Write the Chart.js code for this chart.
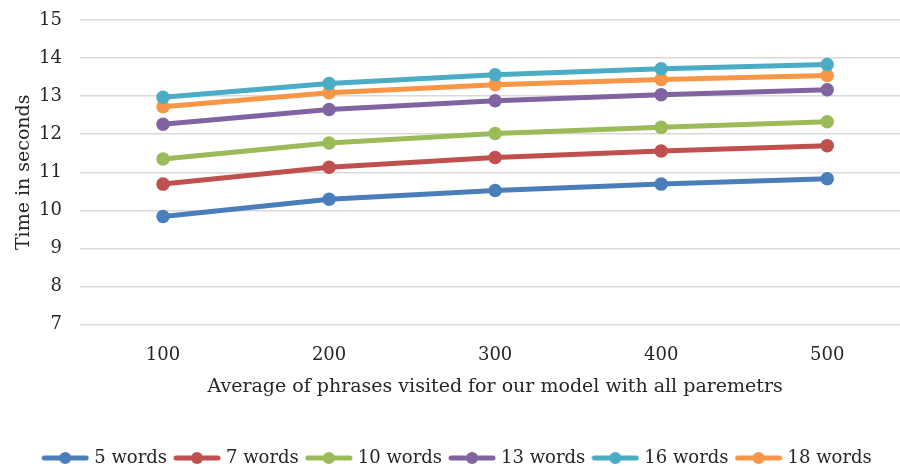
<!DOCTYPE html>
<html>
<head>
<meta charset="utf-8">
<title>Time in seconds vs phrases visited</title>
<script src="https://cdn.jsdelivr.net/npm/chart.js@4.4.0/dist/chart.umd.min.js"></script>
<style>
  html, body { margin: 0; padding: 0; background: #fff; overflow: hidden; }
  #wrap { width: 917px; height: 477px; }
</style>
</head>
<body>
<div id="wrap"><canvas id="chart" width="917" height="477"></canvas></div>
<script>
// Phrases visited (x axis)
const phraseCounts = ['100', '200', '300', '400', '500'];

// Time in seconds, one series per phrase length
const words5  = [9.84, 10.29, 10.52, 10.69, 10.83];
const words7  = [10.69, 11.13, 11.39, 11.56, 11.70];
const words10 = [11.35, 11.77, 12.02, 12.18, 12.33];
const words13 = [12.26, 12.65, 12.88, 13.04, 13.17];
const words16 = [12.97, 13.33, 13.56, 13.72, 13.83];
const words18 = [12.72, 13.09, 13.30, 13.44, 13.54];

const seriesNames = ['5 words', '7 words', '10 words', '13 words', '16 words', '18 words'];
const seriesData = [words5, words7, words10, words13, words16, words18];
const seriesColors = ['#4a7ebb', '#c0504d', '#9bbb59', '#8064a2', '#4bacc6', '#f79646'];

const fontFamily = '"DejaVu Serif", "Liberation Serif", serif';
const textColor = '#262626';

// small line-with-dot marker for the legend
function legendMarker(color) {
    const c = document.createElement('canvas');
    c.width = 48;
    c.height = 14;
    const ctx = c.getContext('2d');
    ctx.strokeStyle = color;
    ctx.lineWidth = 5;
    ctx.lineCap = 'round';
    ctx.beginPath();
    ctx.moveTo(3, 7);
    ctx.lineTo(45, 7);
    ctx.stroke();
    ctx.fillStyle = color;
    ctx.beginPath();
    ctx.arc(24, 7, 6, 0, Math.PI * 2);
    ctx.fill();
    return c;
}

const datasets = seriesNames.map((name, i) => ({
    label: name,
    data: seriesData[i],
    borderColor: seriesColors[i],
    backgroundColor: seriesColors[i],
    borderWidth: 5,
    pointRadius: 6.75,
    pointHoverRadius: 6.75,
    pointBorderWidth: 0,
    tension: 0,
    legendMarker: legendMarker(seriesColors[i])
}));

new Chart(document.getElementById('chart'), {
    type: 'line',
    data: { labels: phraseCounts, datasets: datasets },
    options: {
        responsive: false,
        animation: false,
        layout: { padding: { left: 0, right: 0, top: 20, bottom: 0 } },
        plugins: {
            tooltip: { enabled: false },
            legend: {
                position: 'bottom',
                labels: {
                    usePointStyle: true,
                    pointStyleWidth: 40,
                    color: textColor,
                    font: { family: fontFamily, size: 18 },
                    padding: 10,
                    generateLabels: function(chart) {
                        return chart.data.datasets.map((ds, i) => ({
                            text: ds.label,
                            fillStyle: ds.borderColor,
                            strokeStyle: ds.borderColor,
                            pointStyle: ds.legendMarker,
                            fontColor: textColor,
                            datasetIndex: i,
                            hidden: false,
                            lineWidth: 0
                        }));
                    }
                }
            }
        },
        scales: {
            x: {
                offset: true,
                grid: { display: false },
                border: { display: false },
                ticks: { color: textColor, font: { family: fontFamily, size: 18 }, padding: 12 },
                title: {
                    display: true,
                    text: 'Average of phrases visited for our model with all paremetrs',
                    color: textColor,
                    font: { family: fontFamily, size: 19 },
                    padding: { top: -3, bottom: 41 }
                },
                afterFit: function(scale) {
                    // let the plot run to both edges
                    scale.paddingLeft = 0;
                    scale.paddingRight = 0;
                }
            },
            y: {
                min: 7,
                max: 15,
                ticks: { stepSize: 1, color: textColor, font: { family: fontFamily, size: 18 }, padding: 18 },
                grid: { color: '#d9d9d9', lineWidth: 1.5, drawTicks: false },
                border: { display: false },
                title: {
                    display: true,
                    text: 'Time in seconds',
                    color: textColor,
                    font: { family: fontFamily, size: 19 },
                    padding: { top: 13, bottom: 0 }
                },
                afterFit: function(scale) {
                    scale.width = 80;
                    scale.paddingTop = 0;
                    scale.paddingBottom = 0;
                }
            }
        }
    }
});
</script>
</body>
</html>
